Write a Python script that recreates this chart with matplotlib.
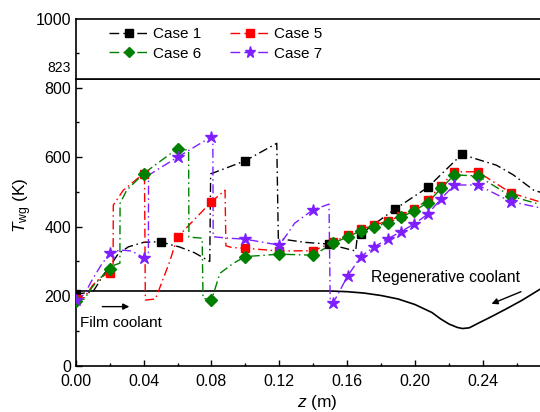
import matplotlib
matplotlib.use('Agg')
import matplotlib.pyplot as plt
from matplotlib.lines import Line2D
from matplotlib.ticker import MultipleLocator, FixedLocator

plt.rcParams['font.family'] = ['Liberation Sans', 'DejaVu Sans']
plt.rcParams['mathtext.fontset'] = 'custom'
plt.rcParams['mathtext.rm'] = 'Liberation Sans'
plt.rcParams['mathtext.it'] = 'Liberation Sans:italic'
plt.rcParams['lines.scale_dashes'] = False

# ---------------- data ----------------
fine_z = [0.1518, 0.1603, 0.168, 0.176, 0.184, 0.1917, 0.1996, 0.2075, 0.2153, 0.2232, 0.237, 0.2566]

c1_line_z = [0.000, 0.010, 0.013, 0.016, 0.020, 0.025, 0.031, 0.040, 0.050, 0.056, 0.061, 0.070, 0.079, 0.0795,
             0.085, 0.100, 0.1185, 0.1194, 0.125, 0.135, 0.149, 0.165, 0.166, 0.168, 0.188, 0.2075, 0.2275,
             0.248, 0.258, 0.270, 0.280]
c1_line_T = [206, 212, 235, 260, 285, 322, 342, 355, 357, 348, 342, 325, 300, 552,
             562, 590, 640, 367, 362, 355, 350, 330, 372, 379, 450, 513, 608,
             577, 549, 505, 490]
c1_mark_z = [0.000, 0.050, 0.100, 0.149, 0.168, 0.188, 0.2075, 0.2275]
c1_mark_T = [206, 357, 590, 350, 379, 450, 513, 608]

c5_line_z = [0.000, 0.005, 0.010, 0.015, 0.020, 0.022, 0.0221, 0.028, 0.040, 0.0405, 0.041, 0.047, 0.055,
             0.060, 0.080, 0.088, 0.0885, 0.092, 0.100, 0.120, 0.140] + fine_z + [0.280]
c5_line_T = [192, 196, 232, 255, 268, 290, 462, 505, 553, 553, 189, 192, 295,
             370, 472, 505, 345, 340, 338, 330, 331,
             355, 376, 392, 405, 416, 432, 452, 477, 518, 558, 558, 497, 462]
c5_mark_z = [0.000, 0.020, 0.040, 0.060, 0.080, 0.100, 0.120, 0.140] + fine_z
c5_mark_T = [192, 268, 553, 370, 472, 338, 330, 331,
             355, 376, 392, 405, 416, 432, 452, 477, 518, 558, 558, 497]

c6_line_z = [0.000, 0.005, 0.010, 0.015, 0.020, 0.023, 0.026, 0.0261, 0.030, 0.040, 0.060, 0.0665, 0.0667,
             0.0745, 0.0750, 0.080, 0.085, 0.093, 0.100, 0.120, 0.140] + fine_z + [0.280]
c6_line_T = [187, 192, 228, 255, 277, 290, 295, 467, 505, 553, 625, 620, 370,
             367, 194, 189, 266, 295, 314, 321, 318,
             352, 371, 388, 400, 411, 427, 446, 469, 510, 549, 546, 488, 455]
c6_mark_z = [0.000, 0.020, 0.040, 0.060, 0.080, 0.100, 0.120, 0.140] + fine_z
c6_mark_T = [187, 277, 553, 625, 189, 314, 321, 318,
             352, 371, 388, 400, 411, 427, 446, 469, 510, 549, 546, 488]

c7_line_z = [0.000, 0.005, 0.010, 0.015, 0.020, 0.026, 0.033, 0.040, 0.0428, 0.0429, 0.050, 0.060, 0.080,
             0.0808, 0.081, 0.090, 0.100, 0.120, 0.125, 0.129, 0.1397, 0.1493, 0.150] + fine_z + [0.280]
c7_line_T = [190, 205, 250, 290, 323, 333, 330, 311, 320, 548, 570, 600, 659,
             659, 371, 367, 364, 347, 381, 410, 448, 465, 185,
             181, 258, 314, 342, 365, 386, 408, 436, 480, 520, 520, 472, 448]
c7_mark_z = [0.000, 0.020, 0.040, 0.060, 0.080, 0.100, 0.120, 0.1397] + fine_z
c7_mark_T = [190, 323, 311, 600, 659, 364, 347, 448,
             181, 258, 314, 342, 365, 386, 408, 436, 480, 520, 520, 472]

outline_z = [0.000, 0.150, 0.160, 0.170, 0.180, 0.190, 0.200, 0.210, 0.215, 0.220, 0.225, 0.228,
             0.232, 0.238, 0.245, 0.254, 0.263, 0.2737, 0.280]
outline_T = [215, 215, 213, 209, 202, 192, 176, 153, 135, 120, 110, 107,
             109, 124, 141, 164, 188, 220, 235]

x_ticks = [0.00, 0.04, 0.08, 0.12, 0.16, 0.20, 0.24]
x_minor = [0.02, 0.06, 0.10, 0.14, 0.18, 0.22, 0.26]

labels = ['Case 1', 'Case 5', 'Case 6', 'Case 7']
colors = ['black', '#ff0000', '#008000', '#7f1fff']
markers = ['s', 's', 'D', '*']
msizes = [5.8, 5.8, 6.0, 9.0]

lines_z = [c1_line_z, c5_line_z, c6_line_z, c7_line_z]
lines_T = [c1_line_T, c5_line_T, c6_line_T, c7_line_T]
marks_z = [c1_mark_z, c5_mark_z, c6_mark_z, c7_mark_z]
marks_T = [c1_mark_T, c5_mark_T, c6_mark_T, c7_mark_T]

# ---------------- figure ----------------
W, H = 540, 412
x0px = 75.8
pxm = 1696.0
xmax = 0.285
xr = x0px + xmax * pxm
ybot, ybrk, ytop = 365.7, 79.3, 19.0

fig = plt.figure(figsize=(W / 100, H / 100), dpi=100)
ax = fig.add_axes([x0px / W, (H - ybot) / H, (xr - x0px) / W, (ybot - ybrk) / H])
axt = fig.add_axes([x0px / W, (H - ybrk) / H, (xr - x0px) / W, (ybrk - ytop) / H])

dash = (0, (6.5, 2.6, 1.1, 2.6))
lw = 1.0

for lz, lT, mz, mT, c, m, ms in zip(lines_z, lines_T, marks_z, marks_T, colors, markers, msizes):
    ax.plot(lz, lT, color=c, lw=lw, ls=dash, zorder=3)
    ax.plot(mz, mT, ls='none', marker=m, ms=ms, color=c, mec=c, zorder=4)

ax.plot(outline_z, outline_T, color='black', lw=1.2, zorder=2)

ax.annotate('', xy=(0.0332, 170), xytext=(0.0140, 170),
            arrowprops=dict(arrowstyle='-|>', color='black', lw=1.0, mutation_scale=9))
ax.annotate('', xy=(0.2436, 175), xytext=(0.2640, 216),
            arrowprops=dict(arrowstyle='-|>', color='black', lw=1.0, mutation_scale=9))
ax.text(0.0025, 110.5, 'Film coolant', fontsize=11, va='baseline', ha='left')
ax.text(0.1739, 241.7, 'Regenerative coolant', fontsize=11.3, va='baseline', ha='left')

ax.set_xlim(0, xmax)
ax.set_ylim(0, (ybot - ybrk) / 0.3475)
ax.xaxis.set_major_locator(FixedLocator(x_ticks))
ax.xaxis.set_minor_locator(FixedLocator(x_minor))
ax.yaxis.set_major_locator(FixedLocator([0, 200, 400, 600, 800]))
ax.yaxis.set_minor_locator(FixedLocator([100, 300, 500, 700]))
ax.xaxis.set_major_formatter(plt.FuncFormatter(lambda v, p: f'{v:.2f}'))
ax.tick_params(which='both', direction='in', top=False, right=False, width=1.0, labelsize=11.5)
ax.tick_params(which='major', length=4)
ax.tick_params(which='minor', length=2.5)
ax.tick_params(axis='x', which='major', pad=6)
ax.set_xlabel(r'$z$ (m)', fontsize=12.5, labelpad=3)
ax.set_ylabel(r'$T_{\mathrm{wg}}$ (K)', fontsize=12.5)
ax.yaxis.set_label_coords(-0.086, 0.56)
for s in ax.spines.values():
    s.set_linewidth(1.2)

axt.set_xlim(0, xmax)
axt.set_ylim(776, 1000)
axt.set_xticks([])
axt.yaxis.set_major_locator(FixedLocator([823, 1000]))
axt.yaxis.set_minor_locator(FixedLocator([872]))
axt.set_yticklabels(['823', '1000'])
axt.tick_params(axis='y', which='both', direction='in', width=1.0)
axt.tick_params(axis='y', which='major', length=0, labelsize=11.5)
axt.tick_params(axis='y', which='minor', length=2.5)
for lab in axt.get_yticklabels():
    if lab.get_text() == '823':
        lab.set_fontsize(10)
for s in axt.spines.values():
    s.set_linewidth(1.2)

handles = [Line2D([0], [0], color=c, lw=lw, ls=(0, (7, 3)), marker=m, ms=ms * 0.9, mec=c)
           for c, m, ms in zip(colors, markers, msizes)]
order = [0, 2, 1, 3]
axt.legend([handles[i] for i in order], [labels[i] for i in order], ncol=2, frameon=False,
           loc='upper left', bbox_to_anchor=(109.3 / W, (H - 27) / H), bbox_transform=fig.transFigure,
           borderaxespad=0, borderpad=0, fontsize=11, handlelength=2.6, handletextpad=0.25,
           columnspacing=1.9, labelspacing=0.38)

fig.savefig('out.png', dpi=100)
